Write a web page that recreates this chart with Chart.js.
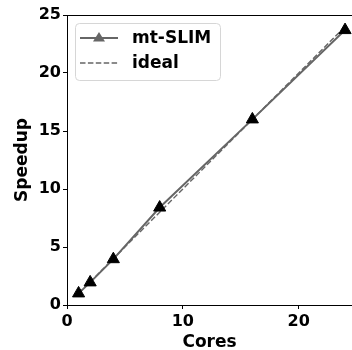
<!DOCTYPE html>
<html lang="en">
<head>
    <meta charset="UTF-8">
    <title>mt-SLIM speedup</title>
    <script src="https://cdn.jsdelivr.net/npm/chart.js"></script>
    <style>
        html, body { margin: 0; padding: 0; background: #fff; }
        #wrap { width: 352px; height: 350px; }
    </style>
</head>
<body>
    <div id="wrap"><canvas id="speedupChart" width="352" height="350"></canvas></div>

    <script>
        const cores = [1, 2, 4, 8, 16, 24];
        const speedup = [1.0, 1.95, 3.95, 8.4, 16.0, 23.7];
        const ideal = [1, 2, 4, 8, 16, 24];
        const xTicks = [0, 10, 20];
        const yTicks = [0, 5, 10, 15, 20, 25];

        const FONT = "'DejaVu Sans', sans-serif";
        const toPoints = (xs, ys) => xs.map((x, i) => ({ x: x, y: ys[i] }));

        // top spine + legend drawn in the plot area
        const frame = {
            id: 'frame',
            afterDraw(chart) {
                const { ctx, chartArea: a } = chart;
                ctx.save();
                ctx.strokeStyle = '#000';
                ctx.lineWidth = 1;
                ctx.beginPath();
                ctx.moveTo(a.left, a.top + 0.5);
                ctx.lineTo(a.right, a.top + 0.5);
                ctx.stroke();

                // legend box
                const bx = a.left + 8, by = a.top + 8, bw = 145, bh = 57;
                ctx.fillStyle = 'rgba(255,255,255,0.8)';
                ctx.strokeStyle = '#d6d6d6';
                ctx.beginPath();
                ctx.roundRect(bx + 0.5, by + 0.5, bw, bh, 4);
                ctx.fill();
                ctx.stroke();

                const items = chart.data.datasets;
                items.forEach((ds, i) => {
                    const y = by + 15 + i * 25;
                    ctx.strokeStyle = ds.borderColor;
                    ctx.lineWidth = ds.borderWidth;
                    ctx.setLineDash(ds.borderDash || []);
                    ctx.beginPath();
                    ctx.moveTo(bx + 5, y);
                    ctx.lineTo(bx + 43, y);
                    ctx.stroke();
                    ctx.setLineDash([]);
                    if (ds.pointRadius) {
                        const cx = bx + 24, r = 6;
                        ctx.fillStyle = ds.borderColor;
                        ctx.beginPath();
                        ctx.moveTo(cx, y - r);
                        ctx.lineTo(cx + r, y + r * 0.6);
                        ctx.lineTo(cx - r, y + r * 0.6);
                        ctx.closePath();
                        ctx.fill();
                    }
                    ctx.fillStyle = '#000';
                    ctx.font = 'bold 17px ' + FONT;
                    ctx.textBaseline = 'middle';
                    ctx.fillText(ds.label, bx + 57, y + 1);
                });
                ctx.restore();
            }
        };

        new Chart(document.getElementById('speedupChart'), {
            type: 'scatter',
            data: {
                datasets: [{
                    label: 'mt-SLIM',
                    data: toPoints(cores, speedup),
                    showLine: true,
                    borderColor: '#666666',
                    borderWidth: 2,
                    pointStyle: 'triangle',
                    pointRadius: 7,
                    pointBackgroundColor: '#000',
                    pointBorderColor: '#000',
                    pointBorderWidth: 1,
                    clip: false,
                    order: 1
                }, {
                    label: 'ideal',
                    data: toPoints(cores, ideal),
                    showLine: true,
                    borderColor: '#666666',
                    borderWidth: 1.4,
                    borderDash: [5.5, 2.4],
                    pointRadius: 0,
                    order: 2
                }]
            },
            options: {
                responsive: false,
                animation: false,
                layout: { autoPadding: false, padding: { top: 15, right: 0, left: 0, bottom: 0 } },
                plugins: { legend: { display: false }, tooltip: { enabled: false } },
                scales: {
                    x: {
                        type: 'linear',
                        min: 0,
                        max: 24.6,
                        afterBuildTicks: s => { s.ticks = xTicks.map(v => ({ value: v })); },
                        afterFit: s => { s.height = 45; },
                        border: { color: '#000', width: 1 },
                        grid: { drawOnChartArea: false, tickLength: 4, color: '#000' },
                        ticks: { color: '#000', font: { family: FONT, size: 16, weight: 'bold' }, padding: 3, maxRotation: 0 },
                        title: { display: true, text: 'Cores', color: '#000', font: { family: FONT, size: 17, weight: 'bold' }, padding: { top: 0, bottom: -3 } }
                    },
                    y: {
                        min: 0,
                        max: 25,
                        afterBuildTicks: s => { s.ticks = yTicks.map(v => ({ value: v })); },
                        afterFit: s => { s.width = 67; },
                        border: { color: '#000', width: 1 },
                        grid: { drawOnChartArea: false, tickLength: 4, color: '#000' },
                        ticks: { color: '#000', font: { family: FONT, size: 16, weight: 'bold' }, padding: 2 },
                        title: { display: true, text: 'Speedup', color: '#000', font: { family: FONT, size: 17, weight: 'bold' }, padding: { top: 12, bottom: 0 } }
                    }
                }
            },
            plugins: [frame]
        });
    </script>
</body>
</html>
